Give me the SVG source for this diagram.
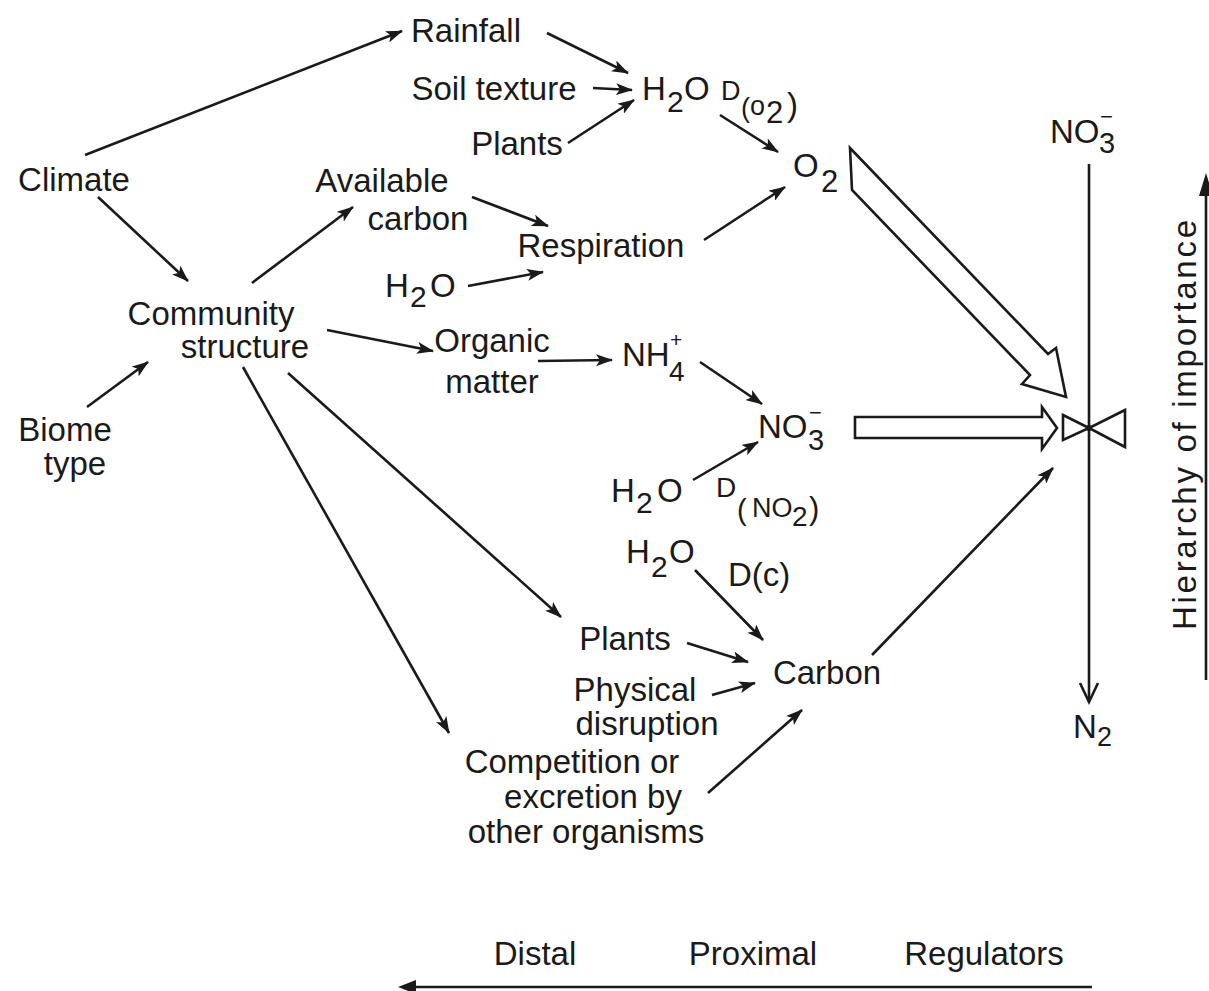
<svg xmlns="http://www.w3.org/2000/svg" width="1209" height="991" viewBox="0 0 1209 991">
<style>
text{font-family:"Liberation Sans",Arial,sans-serif;font-size:33px;fill:#1a1a1a}
.c{text-anchor:middle}
.ln{stroke:#1a1a1a;stroke-width:2.6;fill:none}
.arr{stroke:#1a1a1a;stroke-width:2.6;fill:none;marker-end:url(#ah)}
.hol{stroke:#1a1a1a;stroke-width:2.6;fill:#fff;stroke-linejoin:miter}
.s{font-size:30px}
</style>
<defs>
<marker id="ah" markerWidth="17" markerHeight="12" refX="16" refY="6" orient="auto" markerUnits="userSpaceOnUse">
<path d="M0,0 L17,6 L0,12 L4,6 z" fill="#1a1a1a"/>
</marker>
</defs>
<rect width="1209" height="991" fill="#fff"/>

<g id="connectors">
<line class="arr" x1="85" y1="155" x2="402" y2="31"/>
<line class="arr" x1="98" y1="197" x2="188" y2="281"/>
<line class="arr" x1="87" y1="407" x2="148" y2="362"/>
<line class="arr" x1="252" y1="283" x2="353" y2="207"/>
<line class="arr" x1="327" y1="330" x2="433" y2="351"/>
<line class="arr" x1="288" y1="373" x2="561" y2="617"/>
<line class="arr" x1="243" y1="367" x2="449" y2="733"/>
<line class="arr" x1="547" y1="33" x2="628" y2="73"/>
<line class="arr" x1="593" y1="88" x2="632" y2="90"/>
<line class="arr" x1="568" y1="143" x2="634" y2="100"/>
<line class="arr" x1="720" y1="115" x2="778" y2="152"/>
<line class="arr" x1="472" y1="197" x2="548" y2="226"/>
<line class="arr" x1="468" y1="286" x2="543" y2="272"/>
<line class="arr" x1="704" y1="240" x2="785" y2="187"/>
<line class="arr" x1="538" y1="361" x2="612" y2="360"/>
<line class="arr" x1="700" y1="362" x2="762" y2="404"/>
<line class="arr" x1="693" y1="480" x2="758" y2="442"/>
<line class="arr" x1="695" y1="570" x2="763" y2="640"/>
<line class="arr" x1="687" y1="643" x2="748" y2="662"/>
<line class="arr" x1="712" y1="695" x2="755" y2="683"/>
<line class="arr" x1="708" y1="793" x2="802" y2="710"/>
<line class="arr" x1="872" y1="655" x2="1053" y2="468"/>
<polygon class="hol" points="850,148 1048,354 1056,348 1066,397 1022,384 1030,375 852,190"/>
<polygon class="hol" points="855,417 1042,417 1042,407 1057,428 1042,449 1042,438 855,438"/>
<line class="ln" x1="1089" y1="164" x2="1089" y2="702"/>
<polyline class="ln" points="1080,683 1089,702 1098,683"/>
<line class="ln" x1="1206" y1="188" x2="1206" y2="680"/>
<polygon points="1199,196 1206,173 1213,196" fill="#1a1a1a"/>
<line class="ln" x1="412" y1="987" x2="1092" y2="987"/>
<polygon points="398,987 416,980 416,994" fill="#1a1a1a"/>
</g>

<g id="valve">
<polygon class="hol" points="1063,415 1089,428 1063,440"/>
<polygon class="hol" points="1125,410 1089,428 1125,447"/>
<circle cx="1089" cy="428" r="3" fill="#1a1a1a"/>
</g>

<g id="rainfall"><text class="c" x="466" y="42">Rainfall</text></g>
<g id="soil-texture"><text class="c" x="494" y="100">Soil texture</text></g>
<g id="plants-top"><text class="c" x="517" y="155">Plants</text></g>
<g id="h2o-do2">
<text x="642" y="100">H<tspan class="s" x="667" y="112">2</tspan><tspan x="684" y="100">O</tspan></text>
<text><tspan x="721" y="100" font-size="27">D</tspan><tspan x="741" y="117" font-size="27">(</tspan><tspan x="750" y="115" font-size="27">o</tspan><tspan x="766" y="123" font-size="31">2</tspan><tspan x="787" y="116" font-size="33">)</tspan></text>
</g>
<g id="o2"><text x="793" y="177" font-size="38">O<tspan x="821" y="192" font-size="31">2</tspan></text></g>
<g id="no3-top"><text x="1050" y="143" font-size="33">NO<tspan x="1099" y="153" font-size="29">3</tspan><tspan x="1100" y="124" font-size="22">−</tspan></text></g>
<g id="climate"><text class="c" x="74" y="191">Climate</text></g>
<g id="available-carbon"><text class="c" x="382" y="192">Available</text><text class="c" x="418" y="230">carbon</text></g>
<g id="respiration"><text class="c" x="601" y="257">Respiration</text></g>
<g id="h2o-resp"><text x="385" y="297">H<tspan class="s" x="410" y="307">2</tspan><tspan x="430" y="297">O</tspan></text></g>
<g id="community-structure"><text class="c" x="211" y="325">Community</text><text class="c" x="245" y="358">structure</text></g>
<g id="organic-matter"><text class="c" x="492" y="352">Organic</text><text class="c" x="492" y="393">matter</text></g>
<g id="nh4"><text x="622" y="366" font-size="31">NH<tspan x="669" y="381" font-size="28">4</tspan><tspan x="670" y="347" font-size="21">+</tspan></text></g>
<g id="no3-mid"><text x="758" y="438" font-size="33">NO<tspan x="808" y="450" font-size="29">3</tspan><tspan x="809" y="420" font-size="22">−</tspan></text></g>
<g id="biome-type"><text class="c" x="65" y="441">Biome</text><text class="c" x="75" y="475">type</text></g>
<g id="h2o-dno2">
<text x="611" y="502">H<tspan class="s" x="636" y="513">2</tspan><tspan x="657" y="502">O</tspan></text>
<text><tspan x="716" y="497" font-size="28">D</tspan><tspan x="737" y="520" font-size="29">(</tspan><tspan x="752" y="517" font-size="27">NO</tspan><tspan x="792" y="526" font-size="28">2</tspan><tspan x="809" y="519" font-size="31">)</tspan></text>
</g>
<g id="h2o-dc">
<text x="626" y="563">H<tspan class="s" x="651" y="577">2</tspan><tspan x="669" y="563">O</tspan></text>
<text x="728" y="586" font-size="30">D(c)</text>
</g>
<g id="plants-bottom"><text class="c" x="625" y="650">Plants</text></g>
<g id="carbon"><text class="c" x="827" y="684">Carbon</text></g>
<g id="physical-disruption"><text class="c" x="635" y="701">Physical</text><text class="c" x="647" y="735">disruption</text></g>
<g id="competition"><text class="c" x="572" y="773">Competition or</text><text class="c" x="593" y="808">excretion by</text><text class="c" x="586" y="843">other organisms</text></g>
<g id="n2"><text x="1073" y="738" font-size="30">N<tspan x="1097" y="746" font-size="27">2</tspan></text></g>
<g id="axis-labels">
<text class="c" x="535" y="965">Distal</text>
<text class="c" x="753" y="965">Proximal</text>
<text class="c" x="984" y="965">Regulators</text>
</g>
<g id="hierarchy"><text class="c" transform="translate(1196,425) rotate(-90)" textLength="410" lengthAdjust="spacing">Hierarchy of importance</text></g>
</svg>
